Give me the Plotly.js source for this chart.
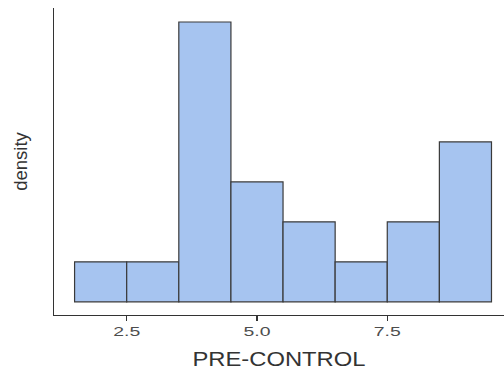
<!DOCTYPE html>
<html><head><meta charset="utf-8">
<script src="https://cdn.plot.ly/plotly-3.0.1.min.js"></script>
<style>html,body{margin:0;padding:0;background:#fff}#chart{width:504px;height:376px}</style>
</head><body><div id="chart"></div>
<script>
var binCenters = [2, 3, 4, 5, 6, 7, 8, 9];
var binCounts = [1, 1, 7, 3, 2, 1, 2, 4];
var tickVals = [2.5, 5.0, 7.5];
var tickLabels = ["2.5", "5.0", "7.5"];

Plotly.newPlot('chart', [{
  type: 'bar',
  x: binCenters,
  y: binCounts,
  width: 1,
  marker: {color: '#a6c4f0', line: {color: '#3a3a3a', width: 1.2}},
  hoverinfo: 'x+y'
}], {
  width: 504, height: 376,
  margin: {l: 54, r: 0, t: 8, b: 61},
  paper_bgcolor: '#fff', plot_bgcolor: '#fff',
  showlegend: false,
  bargap: 0,
  font: {family: 'Liberation Sans, Arial, sans-serif'},
  xaxis: {
    range: [1.105, 9.74],
    tickvals: tickVals, ticktext: tickLabels,
    ticks: 'outside', ticklen: 5, tickwidth: 1.2, tickcolor: '#333',
    showline: true, linecolor: '#333', linewidth: 1.2,
    showgrid: false, zeroline: false,
    tickfont: {size: 12.5, color: '#4d4d4d'},
    title: {text: 'PRE-CONTROL', font: {size: 21, color: '#333'}, standoff: 13}
  },
  yaxis: {
    range: [-0.33, 7.35],
    showticklabels: false, ticks: '',
    showline: true, linecolor: '#333', linewidth: 1.2,
    showgrid: false, zeroline: false,
    title: {text: 'density', font: {size: 18.5, color: '#333'}, standoff: 20}
  }
}, {displayModeBar: false, staticPlot: true}).then(function () {
  document.querySelectorAll('.xtick text').forEach(function (t) {
    t.setAttribute('textLength', '27');
    t.setAttribute('lengthAdjust', 'spacingAndGlyphs');
  });
  var xt = document.querySelector('.g-xtitle text');
  if (xt) {
    xt.setAttribute('textLength', '173');
    xt.setAttribute('lengthAdjust', 'spacingAndGlyphs');
  }
});
</script></body></html>
